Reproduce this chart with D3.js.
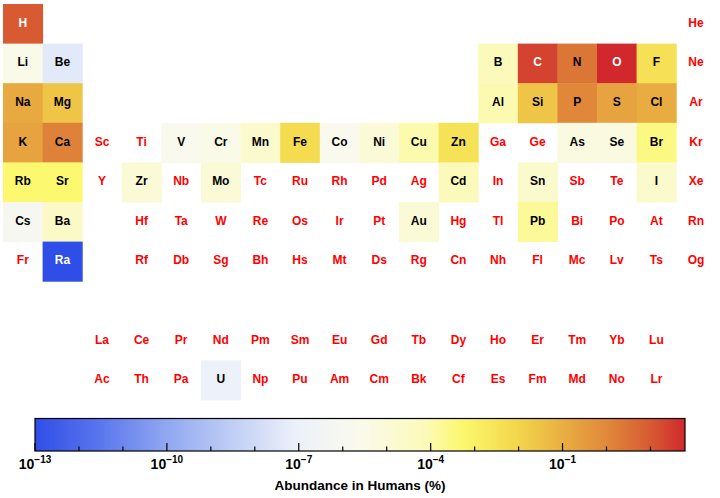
<!DOCTYPE html>
<html>
<head>
<meta charset="utf-8">
<script src="https://cdn.jsdelivr.net/npm/d3@7"></script>
<style>
  body { margin: 0; background: #fff; }
  svg { display: block; font-family: "Liberation Sans", Arial, Helvetica, sans-serif; font-weight: bold; }
</style>
</head>
<body>
<svg id="chart"></svg>
<script>
// element symbols in atomic number order
const symbols = ['H','He','Li','Be','B','C','N','O','F','Ne','Na','Mg','Al','Si','P','S','Cl','Ar',
  'K','Ca','Sc','Ti','V','Cr','Mn','Fe','Co','Ni','Cu','Zn','Ga','Ge','As','Se','Br','Kr',
  'Rb','Sr','Y','Zr','Nb','Mo','Tc','Ru','Rh','Pd','Ag','Cd','In','Sn','Sb','Te','I','Xe',
  'Cs','Ba','La','Ce','Pr','Nd','Pm','Sm','Eu','Gd','Tb','Dy','Ho','Er','Tm','Yb','Lu',
  'Hf','Ta','W','Re','Os','Ir','Pt','Au','Hg','Tl','Pb','Bi','Po','At','Rn',
  'Fr','Ra','Ac','Th','Pa','U','Np','Pu','Am','Cm','Bk','Cf','Es','Fm','Md','No','Lr',
  'Rf','Db','Sg','Bh','Hs','Mt','Ds','Rg','Cn','Nh','Fl','Mc','Lv','Ts','Og'];

// abundance in humans (%) - only elements with a value
const abundanceSymbols = ['H','Li','Be','B','C','N','O','F','Na','Mg','Al','Si','P','S','Cl',
  'K','Ca','V','Cr','Mn','Fe','Co','Ni','Cu','Zn','As','Se','Br','Rb','Sr','Zr','Mo','Cd',
  'Sn','I','Cs','Ba','Au','Pb','Ra','U'];
const abundanceValues = [10, 3e-6, 4e-8, 7e-5, 23, 2.6, 61, 0.0037, 0.14, 0.027, 9e-5, 0.026, 1.1, 0.2, 0.12,
  0.2, 1.4, 2e-6, 3e-6, 2e-5, 0.006, 2e-6, 1e-5, 1e-4, 0.0033, 5e-6, 5e-6, 0.00029, 0.00046, 0.00046, 1e-5, 1e-5, 7e-5,
  2e-5, 2e-5, 1e-6, 3e-5, 1e-5, 0.00017, 1e-13, 1e-7];

const majorTicks = [-13, -10, -7, -4, -1];
const minorTicks = [-12, -11, -9, -8, -6, -5, -3, -2, 0, 1];

// colour map (blue - white - yellow - red)
const colorStops = [0, 0.1, 0.2, 0.3, 0.4, 0.5, 0.6, 0.655, 0.74, 0.81, 0.88, 0.945, 1];
const colorValues = ['#2f4ee8','#5a76ed','#8fa6f1','#becdf5','#ecf0fa','#fafaec','#fcfab9',
  '#fcf96e','#f3d74c','#e9b042','#e0883a','#d75c32','#d0282d'];

const width = 720, height = 498;

const svg = d3.select('#chart').attr('width', width).attr('height', height);

// periodic table position from atomic number
function position(z) {
  if (z === 1) return [1, 1];
  if (z === 2) return [18, 1];
  if (z <= 18) {
    const row = z <= 10 ? 2 : 3;
    const k = z - (row === 2 ? 2 : 10);
    return [k <= 2 ? k : k + 10, row];
  }
  if (z <= 54) {
    const row = z <= 36 ? 4 : 5;
    return [z - (row === 4 ? 18 : 36), row];
  }
  const base = z <= 86 ? 54 : 86;
  const row = z <= 86 ? 6 : 7;
  const k = z - base;
  if (k <= 2) return [k, row];
  if (k <= 17) return [k, row + 3]; // lanthanides / actinides
  return [k - 14, row];
}

const abundance = new Map(abundanceSymbols.map((s, i) => [s, abundanceValues[i]]));
const cells = symbols.map((s, i) => {
  const [col, row] = position(i + 1);
  return { symbol: s, col: col, row: row, value: abundance.get(s) };
});

const xScale = d3.scaleBand().domain(d3.range(1, 19)).range([3, 3 + 18 * 39.6]);
const yScale = d3.scaleBand().domain(d3.range(1, 11)).range([4, 4 + 10 * 39.6]);

const vmin = d3.min(abundanceValues), vmax = d3.max(abundanceValues);
const tScale = d3.scaleLog().domain([vmin, vmax]).range([0, 1]);
const colorMap = d3.scaleLinear().domain(colorStops).range(colorValues).interpolate(d3.interpolateRgb);
const color = v => colorMap(tScale(v));

const table = svg.append('g');

table.selectAll('rect')
  .data(cells.filter(d => d.value !== undefined))
  .join('rect')
    .attr('x', d => xScale(d.col))
    .attr('y', d => yScale(d.row))
    .attr('width', xScale.bandwidth() + 0.5)
    .attr('height', yScale.bandwidth() + 0.5)
    .attr('fill', d => color(d.value));

table.selectAll('text')
  .data(cells)
  .join('text')
    .attr('x', d => xScale(d.col) + xScale.bandwidth() / 2)
    .attr('y', d => yScale(d.row) + yScale.bandwidth() / 2 + 3)
    .attr('text-anchor', 'middle')
    .attr('font-size', 12)
    .attr('fill', d => {
      if (d.value === undefined) return '#ff0000';
      const t = tScale(d.value);
      return (t > 0.93 || t < 0.15) ? '#ffffff' : '#000000';
    })
    .text(d => d.symbol);

// colour bar
const barX = d3.scaleLinear().domain([Math.log10(vmin), Math.log10(vmax)]).range([35, 685]);
const barTop = 418.5, barH = 32.5;

const grad = svg.append('defs').append('linearGradient')
  .attr('id', 'grad').attr('x1', '0%').attr('x2', '100%');
grad.selectAll('stop')
  .data(d3.range(0, 1.0001, 0.02))
  .join('stop')
    .attr('offset', d => (d * 100) + '%')
    .attr('stop-color', d => colorMap(d));

svg.append('rect')
  .attr('x', barX.range()[0]).attr('y', barTop)
  .attr('width', barX.range()[1] - barX.range()[0]).attr('height', barH)
  .attr('fill', 'url(#grad)')
  .attr('stroke', '#000').attr('stroke-width', 1.2);

const ticksG = svg.append('g').attr('stroke', '#000').attr('stroke-width', 1.2);
ticksG.selectAll('.major')
  .data(majorTicks)
  .join('line').attr('class', 'major')
    .attr('x1', d => barX(d)).attr('x2', d => barX(d))
    .attr('y1', barTop + barH).attr('y2', barTop + barH - 8);
ticksG.selectAll('.minor')
  .data(minorTicks)
  .join('line').attr('class', 'minor')
    .attr('x1', d => barX(d)).attr('x2', d => barX(d))
    .attr('y1', barTop + barH).attr('y2', barTop + barH - 4.5);

const labels = svg.append('g').selectAll('text')
  .data(majorTicks)
  .join('text')
    .attr('x', d => barX(d))
    .attr('y', 469)
    .attr('text-anchor', 'middle')
    .attr('fill', '#000');
labels.append('tspan').attr('font-size', 14).text('10');
labels.append('tspan').attr('font-size', 10).attr('dy', -6).text(d => '\u2212' + Math.abs(d));

svg.append('text')
  .attr('x', 360).attr('y', 490)
  .attr('text-anchor', 'middle')
  .attr('font-size', 13.5)
  .text('Abundance in Humans (%)');
</script>
</body>
</html>
